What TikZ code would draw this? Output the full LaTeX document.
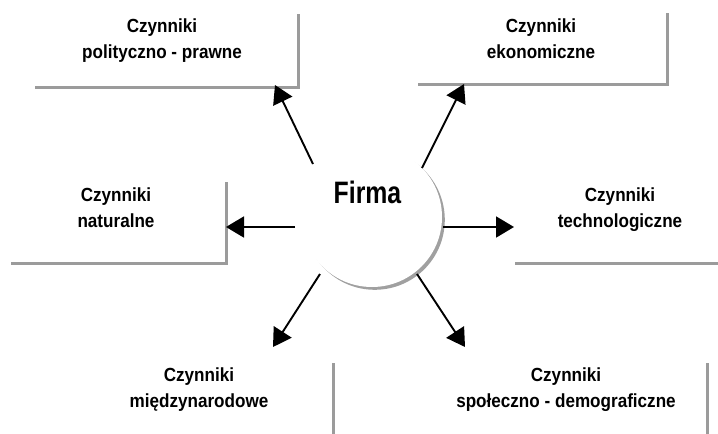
\documentclass[tikz,border=0pt]{standalone}
\usepackage{fontspec}
\setmainfont{Liberation Sans}
\newfontfamily\labelfont{Liberation Sans}[FakeStretch=0.9]
\newfontfamily\firmafont{Liberation Sans}[FakeStretch=0.8]
\usetikzlibrary{arrows.meta}
\definecolor{boxgray}{RGB}{155,155,155}
\definecolor{rimgray}{RGB}{160,160,160}

\begin{document}
\begin{tikzpicture}[x=1pt,y=-1pt,
  factor/.style={font=\labelfont\bfseries\fontsize{19}{26}\selectfont,
    align=center, inner sep=0pt, anchor=north},
  boxedge/.style={line width=3pt, draw=boxgray},
  influence/.style={line width=1.9pt,
    -{Triangle[length=18pt,width=21pt]}}
]
\useasboundingbox (0,0) rectangle (718,434);

% central firm: white disc with a grey rim on its lower right
\fill[rimgray] (374.8,219.8) circle[radius=70];
\node[circle, fill=white, minimum size=140pt, inner sep=0pt] (firma) at (372,217) {};
\node[font=\firmafont\bfseries\fontsize{31}{31}\selectfont, inner sep=0pt, anchor=base]
  (firmalabel) at (367.5,203) {Firma};

% factor labels
\node[factor] (pp)   at (162,19)  {Czynniki\\polityczno - prawne};
\node[factor] (ek)   at (541,19)  {Czynniki\\ekonomiczne};
\node[factor] (nat)  at (116,188) {Czynniki\\naturalne};
\node[factor] (tech) at (620,188) {Czynniki\\technologiczne};
\node[factor] (mn)   at (199,368) {Czynniki\\międzynarodowe};
\node[factor] (sd)   at (566,368) {Czynniki\\społeczno - demograficzne};

% box edges (right and bottom sides only)
\draw[boxedge] (298,14) -- (298,87) -- (35,87);
\draw[boxedge] (667,13) -- (667,84) -- (418,84);
\draw[boxedge] (226,182) -- (226,263) -- (11,263);
\draw[boxedge] (515,263) -- (718,263);
\draw[boxedge] (333,363) -- (333,434);
\draw[boxedge] (707,363) -- (707,434);

% arrow end points
\coordinate (s1) at (313,164); \coordinate (e1) at (275,85);
\coordinate (s2) at (422,168); \coordinate (e2) at (464,84);
\coordinate (s3) at (295,227); \coordinate (e3) at (226,227);
\coordinate (s4) at (443,227); \coordinate (e4) at (514,227);
\coordinate (s5) at (320,274); \coordinate (e5) at (273,347);
\coordinate (s6) at (417,274); \coordinate (e6) at (465,347);

\draw[influence] (s1) -- (e1);
\draw[influence] (s2) -- (e2);
\draw[influence] (s3) -- (e3);
\draw[influence] (s4) -- (e4);
\draw[influence] (s5) -- (e5);
\draw[influence] (s6) -- (e6);
\end{tikzpicture}
\end{document}
